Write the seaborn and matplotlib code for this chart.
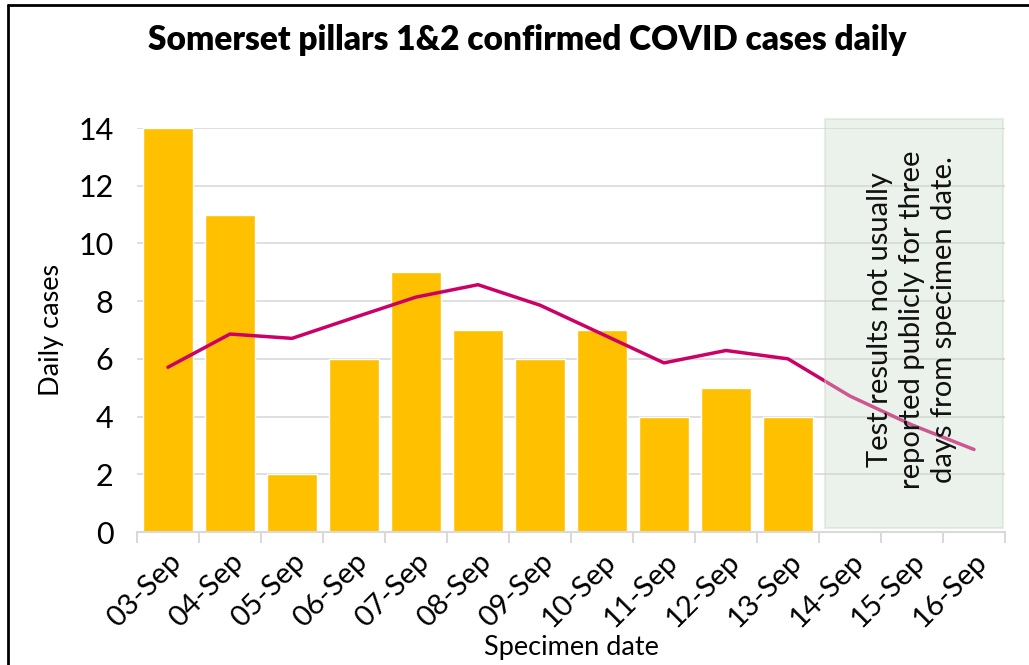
import matplotlib
matplotlib.use("Agg")
import matplotlib.pyplot as plt
import matplotlib.patches as mpatches
import matplotlib.lines as mlines
import numpy as np
import pandas as pd
import seaborn as sns

# data
dates = ["03-Sep", "04-Sep", "05-Sep", "06-Sep", "07-Sep", "08-Sep", "09-Sep",
         "10-Sep", "11-Sep", "12-Sep", "13-Sep", "14-Sep", "15-Sep", "16-Sep"]
daily_cases = [14, 11, 2, 6, 9, 7, 6, 7, 4, 5, 4]
rolling_avg = [5.71, 6.86, 6.71, 7.43, 8.14, 8.57, 7.86, 6.86, 5.86, 6.29, 6.0, 4.71, 3.71, 2.86]
yticks = [0, 2, 4, 6, 8, 10, 12, 14]
note = "Test results not usually\nreported publicly for three\ndays from specimen date."

sns.set_style("white", {"text.color": "black", "axes.labelcolor": "black",
                        "xtick.color": "black", "ytick.color": "black"})
plt.rcParams["font.family"] = ["Lato", "DejaVu Sans"]

bars = pd.DataFrame({"date": dates[:len(daily_cases)], "cases": daily_cases})

fig = plt.figure(figsize=(10.29, 6.65), dpi=100)
ax = fig.add_axes([137 / 1029, 1 - 532 / 665, 868 / 1029, 404 / 665])

sns.barplot(bars, x="date", y="cases", order=dates, color="#FFC000",
            saturation=1, width=0.8, ax=ax, zorder=2)
sns.lineplot(x=np.arange(len(rolling_avg)), y=rolling_avg, color="#CC0066",
             linewidth=2.5, ax=ax, zorder=3)

# shaded "not yet reported" box
box = mpatches.Rectangle((10.6, 0.14), 2.87, 14.17, facecolor="#CDDECD", alpha=0.4,
                         edgecolor="#C2D8BF", linewidth=1.5, clip_on=False, zorder=4)
ax.add_patch(box)
ax.text(12.0, 7.35, note, rotation=90, ha="center", va="center",
        multialignment="center", fontsize=21, color="#111111", zorder=5,
        linespacing=1.3)

ax.set_xlim(-0.5, len(dates) - 0.5)
ax.set_ylim(0, 14)
ax.set_yticks(yticks)
ax.yaxis.grid(True, color="#D9D9D9", linewidth=1.2, zorder=0)
ax.set_axisbelow(True)
for s in ["top", "right", "left"]:
    ax.spines[s].set_visible(False)
ax.spines["bottom"].set_color("#D9D9D9")
ax.spines["bottom"].set_linewidth(1.5)

ax.set_xticks(range(len(dates)))
ax.set_xticklabels(dates, rotation=45, ha="right", rotation_mode="anchor", fontsize=21)
ax.set_xticks(np.arange(-0.5, len(dates)), minor=True)
ax.tick_params(axis="x", which="major", length=0, pad=12)
ax.tick_params(axis="x", which="minor", length=8, color="#D9D9D9", width=1.5, bottom=True)
ax.tick_params(axis="y", length=0, labelsize=22, pad=17)

ax.set_xlabel("Specimen date", fontsize=19.5, labelpad=2)
ax.set_ylabel("Daily cases", fontsize=19.5, labelpad=10)

fig.text(527 / 1029, 1 - 40 / 665, "Somerset pillars 1&2 confirmed COVID cases daily",
         ha="center", va="center", fontsize=24, weight="heavy", color="black")

# chart frame (top and left edges visible in reference)
fig.add_artist(mlines.Line2D([8 / 1029, 1.0], [1 - 5 / 665, 1 - 5 / 665],
                             color="black", linewidth=2, transform=fig.transFigure))
fig.add_artist(mlines.Line2D([8 / 1029, 8 / 1029], [0.0, 1 - 5 / 665],
                             color="black", linewidth=2, transform=fig.transFigure))

fig.savefig("out.png", dpi=100)
